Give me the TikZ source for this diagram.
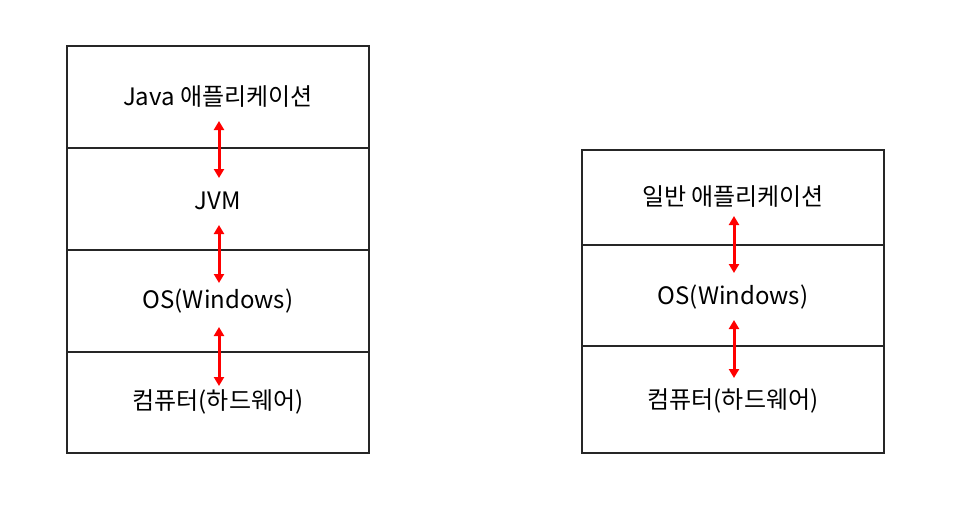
\documentclass[tikz,border=0pt]{standalone}
\usepackage{fontspec}
\setmainfont{Noto Sans CJK KR}
\usetikzlibrary{arrows.meta}
\tikzset{
  layer/.style={draw=black!85, line width=1.3pt, minimum width=302pt, inner sep=0pt},
  label/.style={font=\fontsize{24}{28}\selectfont},
  link/.style={draw=red, line width=3pt, {Triangle[length=9pt,width=10pt]}-{Triangle[length=9pt,width=10pt]}}
}
\begin{document}
\begin{tikzpicture}[x=1pt,y=-1pt]
\useasboundingbox (0,0) rectangle (961,523);
% left stack
\node[layer, minimum height=102pt] (ja) at (218,97) {};
\node[layer, minimum height=102pt] (jvm) at (218,199) {};
\node[layer, minimum height=102pt] (los) at (218,301) {};
\node[layer, minimum height=101pt] (lhw) at (218,402.5) {};
\node[label] (jat) at (218,97) {Java 애플리케이션};
\node[label] (jvmt) at (218,201) {JVM};
\node[label] (lost) at (218,301) {OS(Windows)};
\node[label] (lhwt) at (218,402) {컴퓨터(하드웨어)};
\coordinate (a1) at (219,121); \coordinate (b1) at (219,178);
\coordinate (a2) at (219,225); \coordinate (b2) at (219,283);
\coordinate (a3) at (219,327); \coordinate (b3) at (219,386);
\draw[link] (a1) -- (b1);
\draw[link] (a2) -- (b2);
\draw[link] (a3) -- (b3);
% right stack
\node[layer, minimum height=95pt] (ga) at (733,197.5) {};
\node[layer, minimum height=101pt] (ros) at (733,295.5) {};
\node[layer, minimum height=107pt] (rhw) at (733,399.5) {};
\node[label] (gat) at (733,197) {일반 애플리케이션};
\node[label] (rost) at (733,297) {OS(Windows)};
\node[label] (rhwt) at (733,401) {컴퓨터(하드웨어)};
\coordinate (c1) at (734,216); \coordinate (d1) at (734,273);
\coordinate (c2) at (734,320); \coordinate (d2) at (734,378);
\draw[link] (c1) -- (d1);
\draw[link] (c2) -- (d2);
\end{tikzpicture}
\end{document}
